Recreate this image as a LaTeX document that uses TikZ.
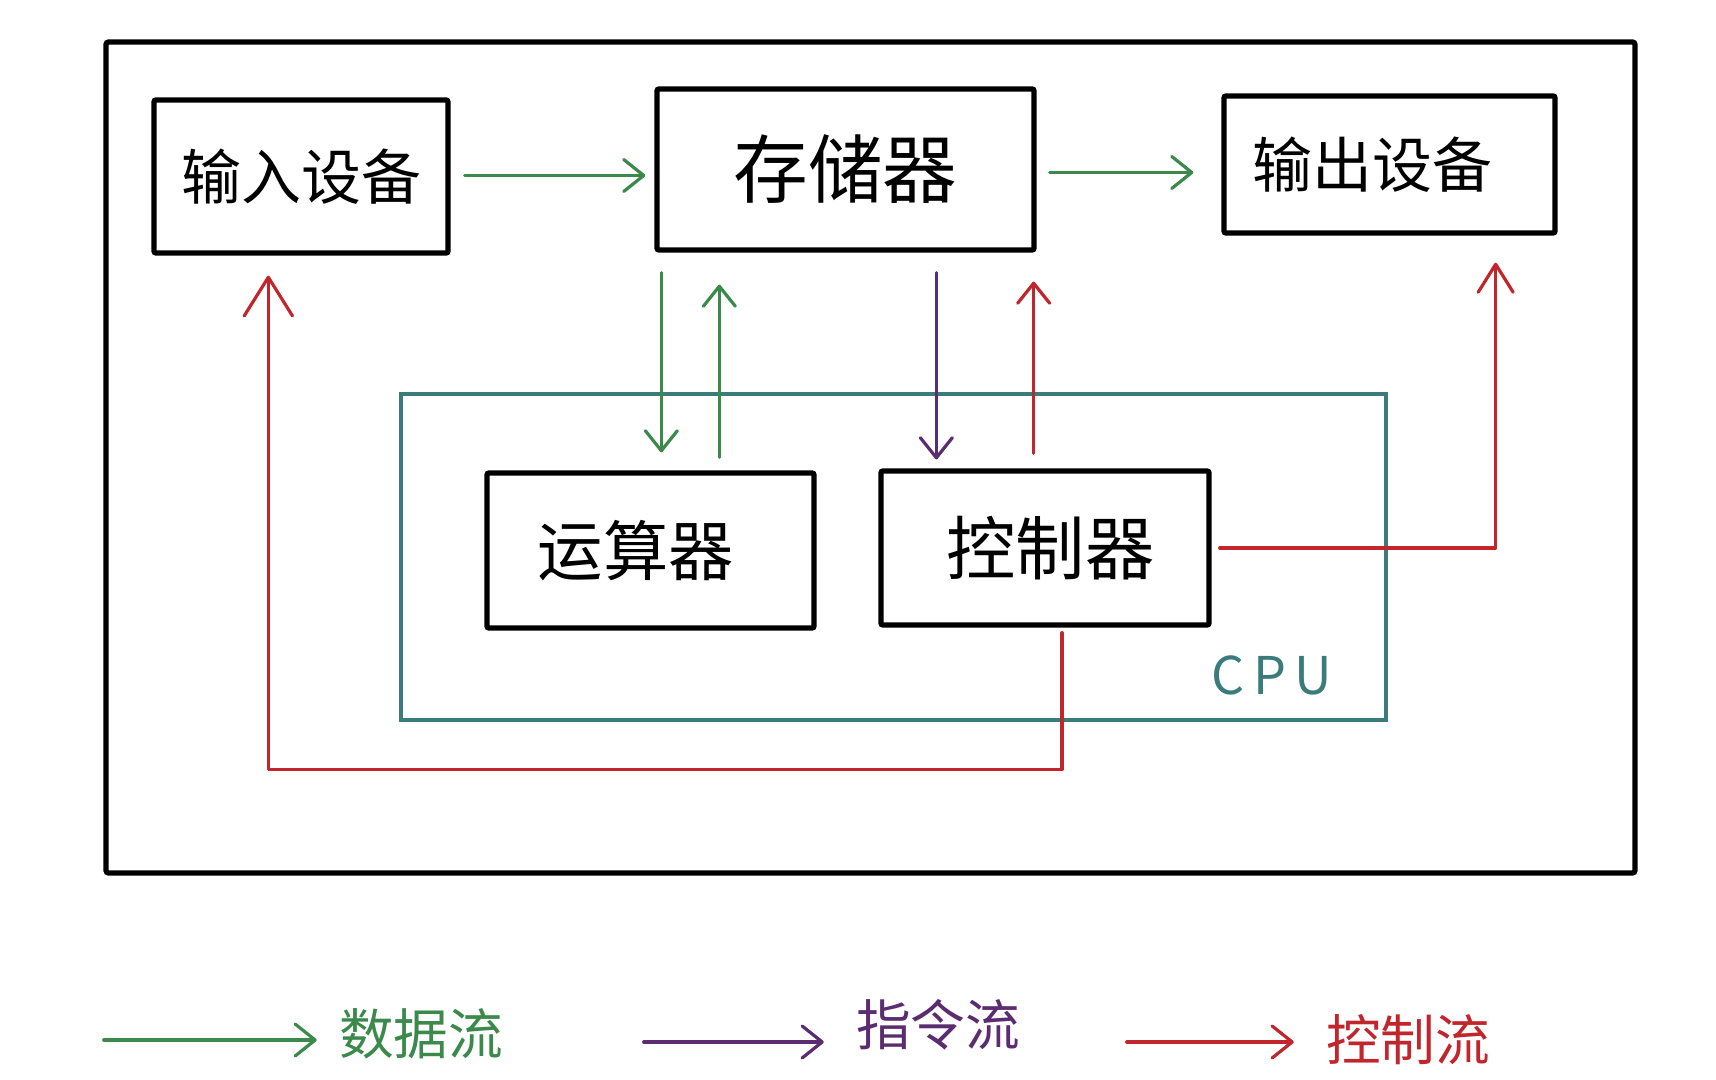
\documentclass[tikz,border=0pt]{standalone}
\usepackage{fontspec}
\newfontfamily\cjk{Noto Sans CJK SC}
\usetikzlibrary{arrows.meta,calc}
\definecolor{dgreen}{HTML}{3B8A4C}
\definecolor{dpurple}{HTML}{5B2C6F}
\definecolor{dred}{HTML}{C0262C}
\definecolor{dteal}{HTML}{3A7B7B}
\tikzset{
  blk/.style={draw=black, line width=4pt, rectangle, rounded corners=1.5pt, inner sep=0pt, font=\cjk},
  tip/.style={-{Straight Barb[length=15pt,width=24pt,round]}},
  bigtip/.style={-{Straight Barb[length=#1,width=1.25*#1,round]}},
  dataflow/.style={tip, draw=dgreen, line width=2.4pt, line cap=round},
  instrflow/.style={tip, draw=dpurple, line width=2.4pt, line cap=round},
  ctrlflow/.style={tip, draw=dred, line width=2.4pt, line cap=round, line join=round},
  legtext/.style={inner sep=0pt, font=\cjk\fontsize{41pt}{41pt}\selectfont},
}
\begin{document}
\begin{tikzpicture}[x=0.75pt, y=-0.75pt]
\useasboundingbox (0,0) rectangle (1716,1080);
\fill[white] (0,0) rectangle (1716,1080);
% outer frame
\node[draw=black, line width=4pt, rounded corners=2pt, minimum width=1529*0.75pt, minimum height=831*0.75pt, inner sep=0pt] (frame) at (870.5,457.5) {};
% CPU
\node[draw=dteal, line width=2.5pt, minimum width=985*0.75pt, minimum height=326*0.75pt, inner sep=0pt] (cpu) at (893.5,557) {};
\node[font=\cjk\fontsize{39pt}{39pt}\selectfont, text=dteal, anchor=center] (cpulabel) at (1272,675) {C\,P\,U};
% boxes
\node[blk, minimum width=294*0.75pt, minimum height=153*0.75pt, font=\cjk\fontsize{45pt}{45pt}\selectfont] (in) at (301,176.5) {\raisebox{-2pt}{输入设备}};
\node[blk, minimum width=377*0.75pt, minimum height=161*0.75pt, font=\cjk\fontsize{56pt}{56pt}\selectfont] (mem) at (845.5,169.5) {\raisebox{-6pt}{存储器}};
\node[blk, minimum width=331*0.75pt, minimum height=137*0.75pt, font=\cjk\fontsize{45pt}{45pt}\selectfont] (out) at (1389.5,164.5) {\hspace*{-26pt}\raisebox{-8pt}{输出设备}};
\node[blk, minimum width=327*0.75pt, minimum height=155*0.75pt, font=\cjk\fontsize{49pt}{49pt}\selectfont] (alu) at (650.5,550.5) {\hspace*{-22pt}\raisebox{2pt}{运算器}};
\node[blk, minimum width=328*0.75pt, minimum height=154*0.75pt, font=\cjk\fontsize{52pt}{52pt}\selectfont] (ctl) at (1045,548) {\hspace*{8pt}控制器};
% data flows
\draw[dataflow] ($(in.east)+(14,-1)$) -- ($(in.east -| mem.west)+(-9,-1)$);
\draw[dataflow] ($(mem.east)+(13,3)$) -- ($(mem.east -| out.west)+(-28,3)$);
\draw[dataflow] ($(mem.south west)+(7,20)$) -- ($(mem.south west |- alu.north)+(7,-18)$);
\draw[dataflow] ($(mem.south west |- alu.north)+(65,-13)$) -- ($(mem.south west)+(65,32)$);
% instruction flow
\draw[instrflow] ($(mem.south west)+(282,20)$) -- ($(mem.south west |- ctl.north)+(282,-9)$);
% control flows
\draw[ctrlflow] ($(mem.south east |- ctl.north)+(-3,-15)$) -- ($(mem.south east)+(-3,29)$);
\draw[ctrlflow, bigtip=21pt] ($(ctl.east)+(8,0)$) -- ($(ctl.east -| out.south east)+(-62,0)$) -- ($(out.south east)+(-62,27)$);
\draw[ctrlflow, bigtip=29pt] ($(ctl.south)+(17,5)$) -- ($(ctl.south)+(17,142)$) -| ($(in.south west)+(117,20)$);
% legend
\node[legtext, text=dgreen] (ld) at (421,1034) {数据流};
\node[legtext, text=dpurple] (li) at (938,1025) {指令流};
\node[legtext, text=dred] (lc) at (1408,1040) {控制流};
\draw[dataflow] ($(ld.west)+(-235,6)$) -- ($(ld.west)+(-22,6)$);
\draw[instrflow] ($(li.west)+(-212,17)$) -- ($(li.west)+(-32,17)$);
\draw[ctrlflow] ($(lc.west)+(-199,2)$) -- ($(lc.west)+(-32,2)$);
\end{tikzpicture}
\end{document}
